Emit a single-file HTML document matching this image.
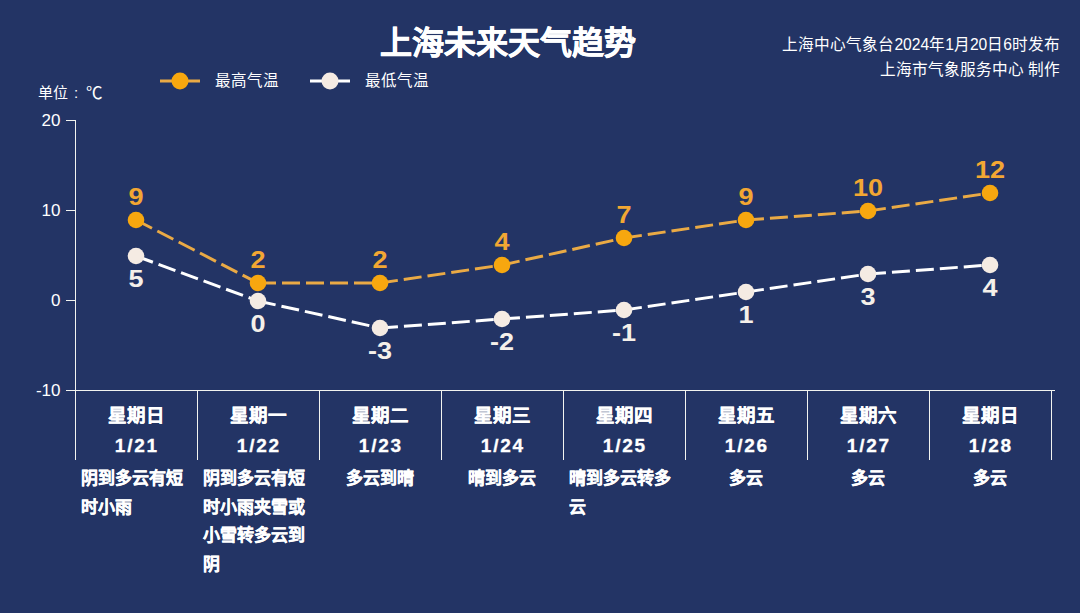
<!DOCTYPE html>
<html lang="zh-CN"><head><meta charset="utf-8"><style>
html,body{margin:0;padding:0;}
body{width:1080px;height:613px;overflow:hidden;background:#233465;position:relative;font-family:"Liberation Sans",sans-serif;color:#fff;}
svg{position:absolute;left:0;top:0;}
.title{position:absolute;left:0;width:1016px;top:22.5px;text-align:center;font-size:32px;font-weight:bold;line-height:40px;-webkit-text-stroke:0.5px #fff;}
.src{position:absolute;right:20px;top:31.5px;text-align:right;font-size:15.65px;line-height:25px;}
.leg{position:absolute;top:71px;font-size:15.5px;line-height:20px;}
.unit{position:absolute;left:38px;top:83px;font-size:15px;line-height:20px;}
.yt{position:absolute;left:0;width:60.5px;text-align:right;font-size:17px;line-height:20px;}
.lbl{position:absolute;width:80px;text-align:center;font-size:23.5px;font-weight:bold;line-height:30px;transform:scaleX(1.15);}
.hi{color:#F2A733;}
.lo{color:#F5F0EA;}
.day{position:absolute;top:401px;width:122px;text-align:center;font-size:18.5px;font-weight:bold;line-height:29.5px;-webkit-text-stroke:0.3px #fff;}
.dt{letter-spacing:1.8px;margin-right:-1.8px;font-size:19px;}
.wx{position:absolute;top:465px;width:122px;text-align:center;font-size:17px;font-weight:bold;line-height:28.7px;-webkit-text-stroke:0.3px #fff;}
.wx.ml{text-align:left;width:116.5px;padding-left:5.5px;}
</style></head><body>
<svg width="1080" height="613" viewBox="0 0 1080 613">
<line x1="160" y1="81" x2="200" y2="81" stroke="#EAAA45" stroke-width="3"/>
<circle cx="180" cy="81" r="8.5" fill="#F7A70F"/>
<line x1="310" y1="81" x2="350" y2="81" stroke="#FFFFFF" stroke-width="3"/>
<circle cx="330" cy="81" r="8.5" fill="#F5EBE3"/>
<line x1="75.5" y1="120" x2="75.5" y2="460" stroke="#F2F4F0" stroke-width="1"/>
<line x1="66" y1="120.5" x2="75" y2="120.5" stroke="#F2F4F0" stroke-width="1"/>
<line x1="66" y1="210.5" x2="75" y2="210.5" stroke="#F2F4F0" stroke-width="1"/>
<line x1="66" y1="300.5" x2="75" y2="300.5" stroke="#F2F4F0" stroke-width="1"/>
<line x1="66" y1="390.5" x2="75" y2="390.5" stroke="#F2F4F0" stroke-width="1"/>
<line x1="75" y1="390.5" x2="1055" y2="390.5" stroke="#F2F4F0" stroke-width="1"/>
<line x1="197.5" y1="390" x2="197.5" y2="460" stroke="#F2F4F0" stroke-width="1"/>
<line x1="319.5" y1="390" x2="319.5" y2="460" stroke="#F2F4F0" stroke-width="1"/>
<line x1="441.5" y1="390" x2="441.5" y2="460" stroke="#F2F4F0" stroke-width="1"/>
<line x1="563.5" y1="390" x2="563.5" y2="460" stroke="#F2F4F0" stroke-width="1"/>
<line x1="685.5" y1="390" x2="685.5" y2="460" stroke="#F2F4F0" stroke-width="1"/>
<line x1="807.5" y1="390" x2="807.5" y2="460" stroke="#F2F4F0" stroke-width="1"/>
<line x1="929.5" y1="390" x2="929.5" y2="460" stroke="#F2F4F0" stroke-width="1"/>
<line x1="1051.5" y1="390" x2="1051.5" y2="460" stroke="#F2F4F0" stroke-width="1"/>
<line x1="136.0" y1="256" x2="258.0" y2="301" stroke="#FFFFFF" stroke-width="3" stroke-dasharray="18 6"/>
<line x1="258.0" y1="301" x2="380.0" y2="328" stroke="#FFFFFF" stroke-width="3" stroke-dasharray="18 6"/>
<line x1="380.0" y1="328" x2="502.0" y2="319" stroke="#FFFFFF" stroke-width="3" stroke-dasharray="18 6"/>
<line x1="502.0" y1="319" x2="624.0" y2="310" stroke="#FFFFFF" stroke-width="3" stroke-dasharray="18 6"/>
<line x1="624.0" y1="310" x2="746.0" y2="292" stroke="#FFFFFF" stroke-width="3" stroke-dasharray="18 6"/>
<line x1="746.0" y1="292" x2="868.0" y2="274" stroke="#FFFFFF" stroke-width="3" stroke-dasharray="18 6"/>
<line x1="868.0" y1="274" x2="990.0" y2="265" stroke="#FFFFFF" stroke-width="3" stroke-dasharray="18 6"/>
<circle cx="136.0" cy="256" r="8.3" fill="#F5EBE3"/>
<circle cx="258.0" cy="301" r="8.3" fill="#F5EBE3"/>
<circle cx="380.0" cy="328" r="8.3" fill="#F5EBE3"/>
<circle cx="502.0" cy="319" r="8.3" fill="#F5EBE3"/>
<circle cx="624.0" cy="310" r="8.3" fill="#F5EBE3"/>
<circle cx="746.0" cy="292" r="8.3" fill="#F5EBE3"/>
<circle cx="868.0" cy="274" r="8.3" fill="#F5EBE3"/>
<circle cx="990.0" cy="265" r="8.3" fill="#F5EBE3"/>
<line x1="136.0" y1="220" x2="258.0" y2="283" stroke="#EAAA45" stroke-width="3" stroke-dasharray="18 6"/>
<line x1="258.0" y1="283" x2="380.0" y2="283" stroke="#EAAA45" stroke-width="3" stroke-dasharray="18 6"/>
<line x1="380.0" y1="283" x2="502.0" y2="265" stroke="#EAAA45" stroke-width="3" stroke-dasharray="18 6"/>
<line x1="502.0" y1="265" x2="624.0" y2="238" stroke="#EAAA45" stroke-width="3" stroke-dasharray="18 6"/>
<line x1="624.0" y1="238" x2="746.0" y2="220" stroke="#EAAA45" stroke-width="3" stroke-dasharray="18 6"/>
<line x1="746.0" y1="220" x2="868.0" y2="211" stroke="#EAAA45" stroke-width="3" stroke-dasharray="18 6"/>
<line x1="868.0" y1="211" x2="990.0" y2="193" stroke="#EAAA45" stroke-width="3" stroke-dasharray="18 6"/>
<circle cx="136.0" cy="220" r="8.3" fill="#F7A70F"/>
<circle cx="258.0" cy="283" r="8.3" fill="#F7A70F"/>
<circle cx="380.0" cy="283" r="8.3" fill="#F7A70F"/>
<circle cx="502.0" cy="265" r="8.3" fill="#F7A70F"/>
<circle cx="624.0" cy="238" r="8.3" fill="#F7A70F"/>
<circle cx="746.0" cy="220" r="8.3" fill="#F7A70F"/>
<circle cx="868.0" cy="211" r="8.3" fill="#F7A70F"/>
<circle cx="990.0" cy="193" r="8.3" fill="#F7A70F"/>
</svg>
<div class="title">上海未来天气趋势</div>
<div class="src">上海中心气象台2024年1月20日6时发布<br>上海市气象服务中心 制作</div>
<div class="leg" style="left:215px">最高气温</div>
<div class="leg" style="left:365px">最低气温</div>
<div class="unit">单位<span style="position:absolute;left:36px;top:0">:</span><span style="position:absolute;left:48px;top:0;font-size:16.5px">℃</span></div>
<div class="lbl hi" style="left:96.0px;top:182px">9</div>
<div class="lbl hi" style="left:218.0px;top:245px">2</div>
<div class="lbl hi" style="left:340.0px;top:245px">2</div>
<div class="lbl hi" style="left:462.0px;top:227px">4</div>
<div class="lbl hi" style="left:584.0px;top:200px">7</div>
<div class="lbl hi" style="left:706.0px;top:182px">9</div>
<div class="lbl hi" style="left:828.0px;top:173px">10</div>
<div class="lbl hi" style="left:950.0px;top:155px">12</div>
<div class="lbl lo" style="left:96.0px;top:264.2px">5</div>
<div class="lbl lo" style="left:218.0px;top:309.2px">0</div>
<div class="lbl lo" style="left:340.0px;top:336.2px">-3</div>
<div class="lbl lo" style="left:462.0px;top:327.2px">-2</div>
<div class="lbl lo" style="left:584.0px;top:318.2px">-1</div>
<div class="lbl lo" style="left:706.0px;top:300.2px">1</div>
<div class="lbl lo" style="left:828.0px;top:282.2px">3</div>
<div class="lbl lo" style="left:950.0px;top:273.2px">4</div>
<div class="yt" style="top:111px">20</div>
<div class="yt" style="top:201px">10</div>
<div class="yt" style="top:291px">0</div>
<div class="yt" style="top:381px">-10</div>
<div class="day" style="left:75px">星期日<br><span class="dt">1/21</span></div>
<div class="wx ml" style="left:75px">阴到多云有短<br>时小雨</div>
<div class="day" style="left:197px">星期一<br><span class="dt">1/22</span></div>
<div class="wx ml" style="left:197px">阴到多云有短<br>时小雨夹雪或<br>小雪转多云到<br>阴</div>
<div class="day" style="left:319px">星期二<br><span class="dt">1/23</span></div>
<div class="wx" style="left:319px">多云到晴</div>
<div class="day" style="left:441px">星期三<br><span class="dt">1/24</span></div>
<div class="wx" style="left:441px">晴到多云</div>
<div class="day" style="left:563px">星期四<br><span class="dt">1/25</span></div>
<div class="wx ml" style="left:563px">晴到多云转多<br>云</div>
<div class="day" style="left:685px">星期五<br><span class="dt">1/26</span></div>
<div class="wx" style="left:685px">多云</div>
<div class="day" style="left:807px">星期六<br><span class="dt">1/27</span></div>
<div class="wx" style="left:807px">多云</div>
<div class="day" style="left:929px">星期日<br><span class="dt">1/28</span></div>
<div class="wx" style="left:929px">多云</div>
</body></html>
